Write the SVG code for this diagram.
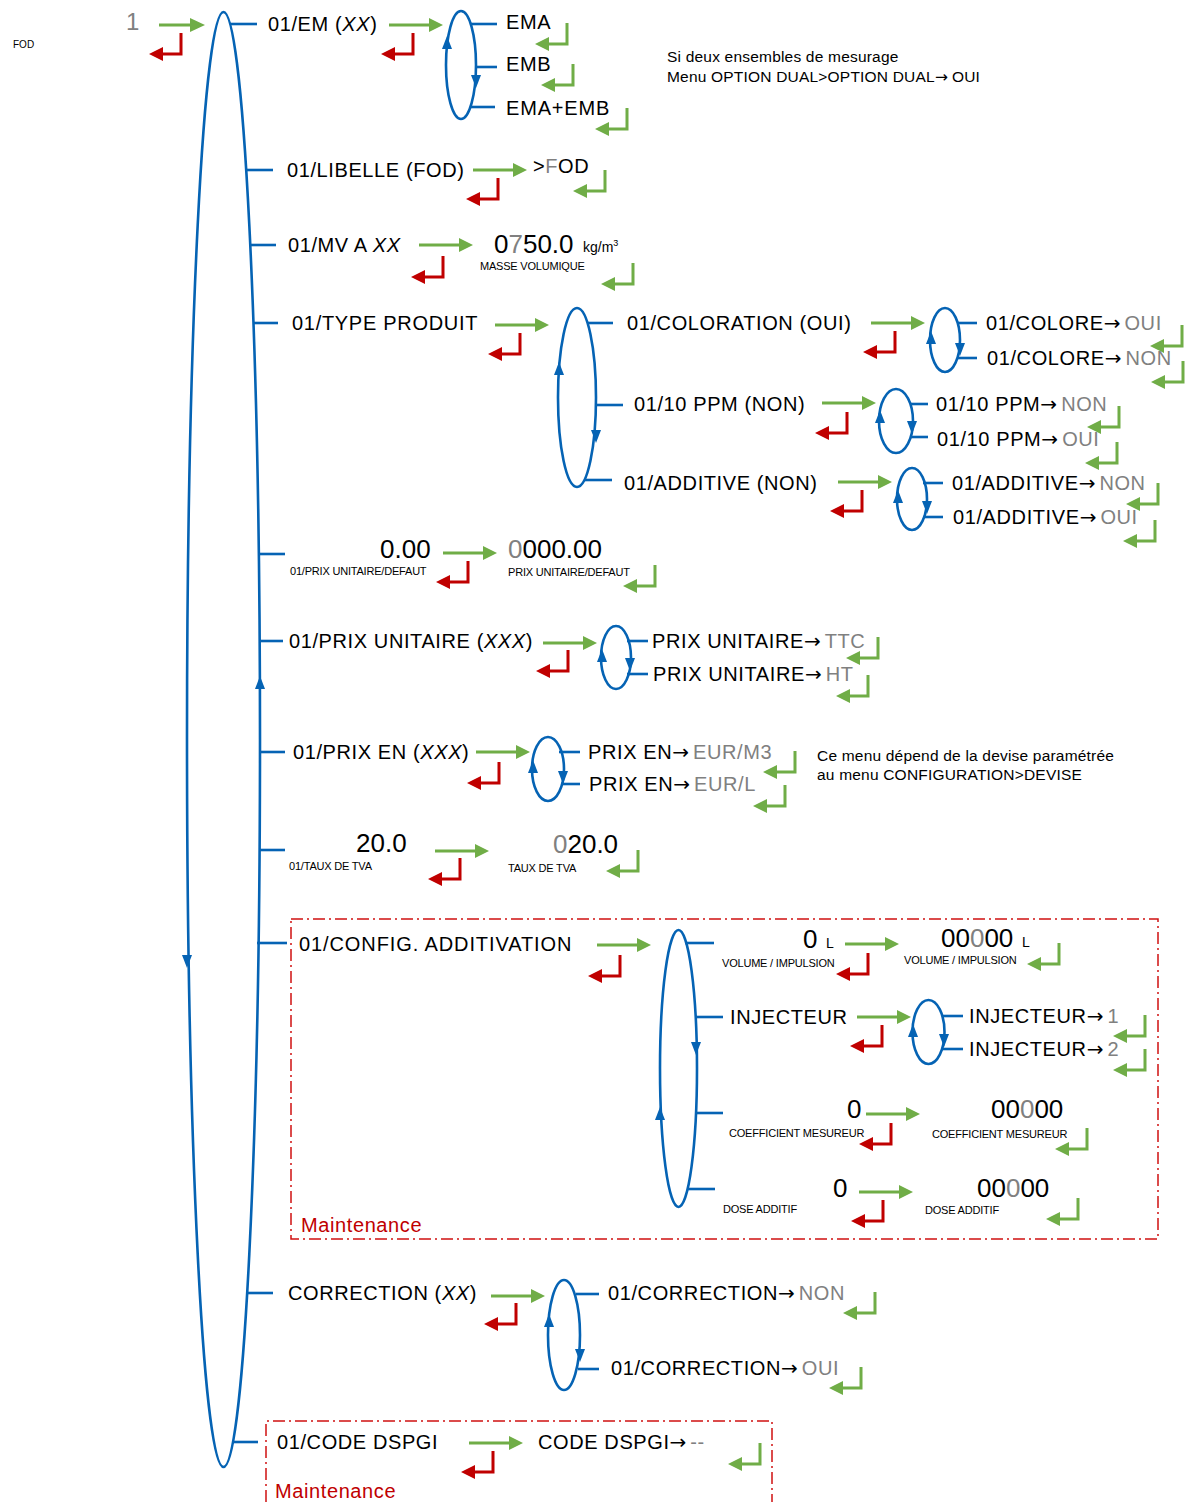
<svg xmlns="http://www.w3.org/2000/svg" xmlns:xlink="http://www.w3.org/1999/xlink" width="1190" height="1502" viewBox="0 0 1190 1502">
<style>
text{font-family:"Liberation Sans",Arial,"DejaVu Sans",sans-serif;fill:#000}
.t{font-size:20px;letter-spacing:0.6px}
.s{font-size:11px;letter-spacing:-0.2px}
.b{font-size:26px}
.gy{fill:#808080}
.n{font-size:15.5px;letter-spacing:0.2px}
.mt{font-size:20px;letter-spacing:0.6px;fill:#c00000}
.it{font-style:italic}
.ar{font-family:"DejaVu Sans",sans-serif;letter-spacing:4px}
.lp{fill:none;stroke:#0563b4;stroke-width:2.6}
.bl{stroke:#0563b4;stroke-width:2.6}
.r{color:#c00000}
.g{color:#70ad47}
.box{fill:none;stroke:#d01010;stroke-width:1.5;stroke-dasharray:12 4 2 4}
</style>
<defs>
<g id="ga"><line x1="0" y1="0" x2="41" y2="0" stroke="#70ad47" stroke-width="3"/><polygon points="40,-7 54,0 40,7" fill="#70ad47"/></g>
<g id="ret"><path d="M0,0 V21 H-19" fill="none" stroke="currentColor" stroke-width="3"/><polygon points="-18,14 -32,21 -18,28" fill="currentColor"/></g>
<polygon id="au" points="0,0 -5,13 5,13" fill="#0563b4"/>
<polygon id="ad" points="0,0 -5,-13 5,-13" fill="#0563b4"/>
</defs>

<g id="connectors">
<ellipse class="lp" cx="223.5" cy="739.5" rx="36.5" ry="727.5"/>
<use href="#ad" x="187" y="968"/><use href="#au" x="260" y="676"/>
<ellipse class="lp" cx="461" cy="65" rx="15" ry="54"/>
<use href="#au" x="447" y="36"/><use href="#ad" x="476" y="88"/>
<ellipse class="lp" cx="577" cy="397.5" rx="19" ry="89.5"/>
<use href="#au" x="559" y="362"/><use href="#ad" x="596" y="443"/>
<ellipse class="lp" cx="945" cy="340" rx="15" ry="32"/>
<use href="#au" x="931" y="331"/><use href="#ad" x="960" y="356"/>
<ellipse class="lp" cx="896" cy="421" rx="17" ry="32"/>
<use href="#au" x="880" y="410"/><use href="#ad" x="912" y="434"/>
<ellipse class="lp" cx="912" cy="499" rx="15" ry="31"/>
<use href="#au" x="898" y="490"/><use href="#ad" x="927" y="514"/>
<ellipse class="lp" cx="616" cy="657.5" rx="15" ry="31.5"/>
<use href="#au" x="602" y="649"/><use href="#ad" x="630" y="671"/>
<ellipse class="lp" cx="548" cy="769" rx="16" ry="32"/>
<use href="#au" x="533" y="760"/><use href="#ad" x="563" y="784"/>
<ellipse class="lp" cx="678.5" cy="1068.5" rx="18.5" ry="138.5"/>
<use href="#ad" x="696" y="1055"/><use href="#au" x="660" y="1107"/>
<ellipse class="lp" cx="928.5" cy="1032" rx="16" ry="32"/>
<use href="#au" x="913" y="1024"/><use href="#ad" x="944" y="1047"/>
<ellipse class="lp" cx="564" cy="1335" rx="16" ry="55"/>
<use href="#au" x="549" y="1314"/><use href="#ad" x="580" y="1362"/>

<g class="bl">
<line x1="230" y1="24" x2="257" y2="24"/>
<line x1="246" y1="170" x2="273" y2="170"/>
<line x1="250" y1="245" x2="276" y2="245"/>
<line x1="253" y1="323" x2="278" y2="323"/>
<line x1="258" y1="554" x2="285" y2="554"/>
<line x1="259" y1="641" x2="283" y2="641"/>
<line x1="260" y1="752" x2="285" y2="752"/>
<line x1="259" y1="850" x2="285" y2="850"/>
<line x1="257" y1="943" x2="287" y2="943"/>
<line x1="247" y1="1293" x2="273" y2="1293"/>
<line x1="233" y1="1442" x2="258" y2="1442"/>
<line x1="470" y1="24" x2="497" y2="24"/>
<line x1="475" y1="67" x2="497" y2="67"/>
<line x1="471" y1="107" x2="495" y2="107"/>
<line x1="588" y1="323" x2="613" y2="323"/>
<line x1="595" y1="405" x2="623" y2="405"/>
<line x1="585" y1="480" x2="612" y2="480"/>
<line x1="958" y1="323" x2="977" y2="323"/>
<line x1="957" y1="358" x2="977" y2="358"/>
<line x1="910" y1="404" x2="928" y2="404"/>
<line x1="910" y1="437" x2="928" y2="437"/>
<line x1="923" y1="483" x2="943" y2="483"/>
<line x1="923" y1="517" x2="943" y2="517"/>
<line x1="627" y1="641" x2="648" y2="641"/>
<line x1="627" y1="674" x2="648" y2="674"/>
<line x1="559" y1="752" x2="580" y2="752"/>
<line x1="561" y1="784" x2="580" y2="784"/>
<line x1="685" y1="943" x2="714" y2="943"/>
<line x1="695" y1="1017" x2="723" y2="1017"/>
<line x1="695" y1="1113" x2="723" y2="1113"/>
<line x1="688" y1="1189" x2="715" y2="1189"/>
<line x1="942" y1="1016" x2="963" y2="1016"/>
<line x1="942" y1="1049" x2="963" y2="1049"/>
<line x1="576" y1="1294" x2="599" y2="1294"/>
<line x1="578" y1="1369" x2="599" y2="1369"/>
</g>

<line x1="159" y1="25" x2="192" y2="25" stroke="#70ad47" stroke-width="3"/><polygon points="190,18 205,25 190,32" fill="#70ad47"/>
<use href="#ga" x="389" y="25"/>
<use href="#ga" x="473" y="170"/>
<use href="#ga" x="419" y="245"/>
<use href="#ga" x="495" y="325"/>
<use href="#ga" x="871" y="323"/>
<use href="#ga" x="822" y="403"/>
<use href="#ga" x="838" y="482"/>
<use href="#ga" x="443" y="553"/>
<use href="#ga" x="543" y="643"/>
<use href="#ga" x="476" y="752"/>
<use href="#ga" x="435" y="851"/>
<use href="#ga" x="597" y="945"/>
<use href="#ga" x="845" y="944"/>
<use href="#ga" x="857" y="1017"/>
<use href="#ga" x="866" y="1114"/>
<use href="#ga" x="859" y="1192"/>
<use href="#ga" x="491" y="1296"/>
<use href="#ga" x="469" y="1443"/>

<g class="r">
<use href="#ret" x="181" y="33"/>
<use href="#ret" x="413" y="33"/>
<use href="#ret" x="498" y="178"/>
<use href="#ret" x="443" y="256"/>
<use href="#ret" x="520" y="333"/>
<use href="#ret" x="895" y="331"/>
<use href="#ret" x="847" y="412"/>
<use href="#ret" x="862" y="490"/>
<use href="#ret" x="468" y="561"/>
<use href="#ret" x="568" y="650"/>
<use href="#ret" x="499" y="762"/>
<use href="#ret" x="460" y="858"/>
<use href="#ret" x="620" y="955"/>
<use href="#ret" x="868" y="953"/>
<use href="#ret" x="882" y="1025"/>
<use href="#ret" x="891" y="1123"/>
<use href="#ret" x="883" y="1200"/>
<use href="#ret" x="516" y="1303"/>
<use href="#ret" x="493" y="1451"/>
</g>
<g class="g">
<use href="#ret" x="567" y="23"/>
<use href="#ret" x="573" y="64"/>
<use href="#ret" x="627" y="108"/>
<use href="#ret" x="605" y="170"/>
<use href="#ret" x="633" y="263"/>
<use href="#ret" x="1182" y="325"/>
<use href="#ret" x="1183" y="361"/>
<use href="#ret" x="1119" y="406"/>
<use href="#ret" x="1117" y="442"/>
<use href="#ret" x="1158" y="483"/>
<use href="#ret" x="1155" y="520"/>
<use href="#ret" x="655" y="565"/>
<use href="#ret" x="878" y="637"/>
<use href="#ret" x="868" y="675"/>
<use href="#ret" x="795" y="751"/>
<use href="#ret" x="785" y="785"/>
<use href="#ret" x="638" y="850"/>
<use href="#ret" x="1059" y="943"/>
<use href="#ret" x="1145" y="1015"/>
<use href="#ret" x="1145" y="1049"/>
<use href="#ret" x="1087" y="1128"/>
<use href="#ret" x="1078" y="1198"/>
<use href="#ret" x="875" y="1292"/>
<use href="#ret" x="861" y="1367"/>
<use href="#ret" x="760" y="1443"/>
</g>
</g>

<g id="root">
<text x="126" y="30" font-size="24" class="gy">1</text>
<text x="13" y="48" font-size="10">FOD</text>
</g>
<g id="n-em">
<text class="t" x="268" y="31">01/EM (<tspan class="it">XX</tspan>)</text>
<text class="t" x="506" y="29">EMA</text>
<text class="t" x="506" y="71">EMB</text>
<text class="t" x="506" y="115" textLength="104">EMA+EMB</text>
<text class="n" x="667" y="62">Si deux ensembles de mesurage</text>
<text class="n" x="667" y="82">Menu OPTION DUAL&gt;OPTION DUAL<tspan class="ar">→</tspan>OUI</text>
</g>
<g id="n-libelle">
<text class="t" x="287" y="177">01/LIBELLE (FOD)</text>
<text class="t" x="533" y="173">&gt;<tspan class="gy">F</tspan>OD</text>
</g>
<g id="n-mv">
<text class="t" x="288" y="252">01/MV A <tspan class="it">XX</tspan></text>
<text class="b" x="494" y="253">0<tspan class="gy">7</tspan>50.0</text>
<text x="583" y="252" font-size="14">kg/m<tspan font-size="9" dy="-6">3</tspan></text>
<text class="s" x="480" y="270">MASSE VOLUMIQUE</text>
</g>
<g id="n-type">
<text class="t" x="292" y="330" textLength="186">01/TYPE PRODUIT</text>
<text class="t" x="627" y="330">01/COLORATION (OUI)</text>
<text class="t" x="634" y="411">01/10 PPM (NON)</text>
<text class="t" x="624" y="490">01/ADDITIVE (NON)</text>
<text class="t" x="986" y="330">01/COLORE<tspan class="ar">→</tspan><tspan class="gy">OUI</tspan></text>
<text class="t" x="987" y="365">01/COLORE<tspan class="ar">→</tspan><tspan class="gy">NON</tspan></text>
<text class="t" x="936" y="411">01/10 PPM<tspan class="ar">→</tspan><tspan class="gy">NON</tspan></text>
<text class="t" x="937" y="446">01/10 PPM<tspan class="ar">→</tspan><tspan class="gy">OUI</tspan></text>
<text class="t" x="952" y="490">01/ADDITIVE<tspan class="ar">→</tspan><tspan class="gy">NON</tspan></text>
<text class="t" x="953" y="524">01/ADDITIVE<tspan class="ar">→</tspan><tspan class="gy">OUI</tspan></text>
</g>
<g id="n-prixdefaut">
<text class="b" x="380" y="558" font-size="25">0.00</text>
<text class="s" x="290" y="575">01/PRIX UNITAIRE/DEFAUT</text>
<text class="b" x="508" y="558"><tspan class="gy">0</tspan>000.00</text>
<text class="s" x="508" y="576">PRIX UNITAIRE/DEFAUT</text>
</g>
<g id="n-prixunitaire">
<text class="t" x="289" y="648">01/PRIX UNITAIRE (<tspan class="it">XXX</tspan>)</text>
<text class="t" x="652" y="648">PRIX UNITAIRE<tspan class="ar">→</tspan><tspan class="gy">TTC</tspan></text>
<text class="t" x="653" y="681">PRIX UNITAIRE<tspan class="ar">→</tspan><tspan class="gy">HT</tspan></text>
</g>
<g id="n-prixen">
<text class="t" x="293" y="759">01/PRIX EN (<tspan class="it">XXX</tspan>)</text>
<text class="t" x="588" y="759">PRIX EN<tspan class="ar">→</tspan><tspan class="gy">EUR/M3</tspan></text>
<text class="t" x="589" y="791">PRIX EN<tspan class="ar">→</tspan><tspan class="gy">EUR/L</tspan></text>
<text class="n" x="817" y="761">Ce menu dépend de la devise paramétrée</text>
<text class="n" x="817" y="780">au menu CONFIGURATION&gt;DEVISE</text>
</g>
<g id="n-tva">
<text class="b" x="356" y="852">20.0</text>
<text class="s" x="289" y="870">01/TAUX DE TVA</text>
<text class="b" x="553" y="853"><tspan class="gy">0</tspan>20.0</text>
<text class="s" x="508" y="872">TAUX DE TVA</text>
</g>
<g id="n-config">
<rect class="box" x="291" y="919" width="867" height="320"/>
<text class="t" x="299" y="951" textLength="273">01/CONFIG. ADDITIVATION</text>
<text class="b" x="803" y="948" font-size="24">0</text>
<text x="826" y="948" font-size="14">L</text>
<text class="s" x="722" y="967" letter-spacing="-0.4">VOLUME / IMPULSION</text>
<text class="b" x="941" y="947">00<tspan class="gy">0</tspan>00</text>
<text x="1022" y="947" font-size="14">L</text>
<text class="s" x="904" y="964" letter-spacing="-0.4">VOLUME / IMPULSION</text>
<text class="t" x="730" y="1024">INJECTEUR</text>
<text class="t" x="969" y="1023">INJECTEUR<tspan class="ar">→</tspan><tspan class="gy">1</tspan></text>
<text class="t" x="969" y="1056">INJECTEUR<tspan class="ar">→</tspan><tspan class="gy">2</tspan></text>
<text class="b" x="847" y="1118">0</text>
<text class="s" x="729" y="1137">COEFFICIENT MESUREUR</text>
<text class="b" x="991" y="1118">00<tspan class="gy">0</tspan>00</text>
<text class="s" x="932" y="1138">COEFFICIENT MESUREUR</text>
<text class="b" x="833" y="1197">0</text>
<text class="s" x="723" y="1213">DOSE ADDITIF</text>
<text class="b" x="977" y="1197">00<tspan class="gy">0</tspan>00</text>
<text class="s" x="925" y="1214">DOSE ADDITIF</text>
<text class="mt" x="301" y="1232">Maintenance</text>
</g>
<g id="n-correction">
<text class="t" x="288" y="1300">CORRECTION (<tspan class="it">XX</tspan>)</text>
<text class="t" x="608" y="1300">01/CORRECTION<tspan class="ar">→</tspan><tspan class="gy">NON</tspan></text>
<text class="t" x="611" y="1375">01/CORRECTION<tspan class="ar">→</tspan><tspan class="gy">OUI</tspan></text>
</g>
<g id="n-dspgi">
<path class="box" d="M266,1502 V1421 H772 V1502"/>
<text class="t" x="277" y="1449">01/CODE DSPGI</text>
<text class="t" x="538" y="1449">CODE DSPGI<tspan class="ar">→</tspan><tspan class="gy">--</tspan></text>
<text class="mt" x="275" y="1498">Maintenance</text>
</g>
</svg>
